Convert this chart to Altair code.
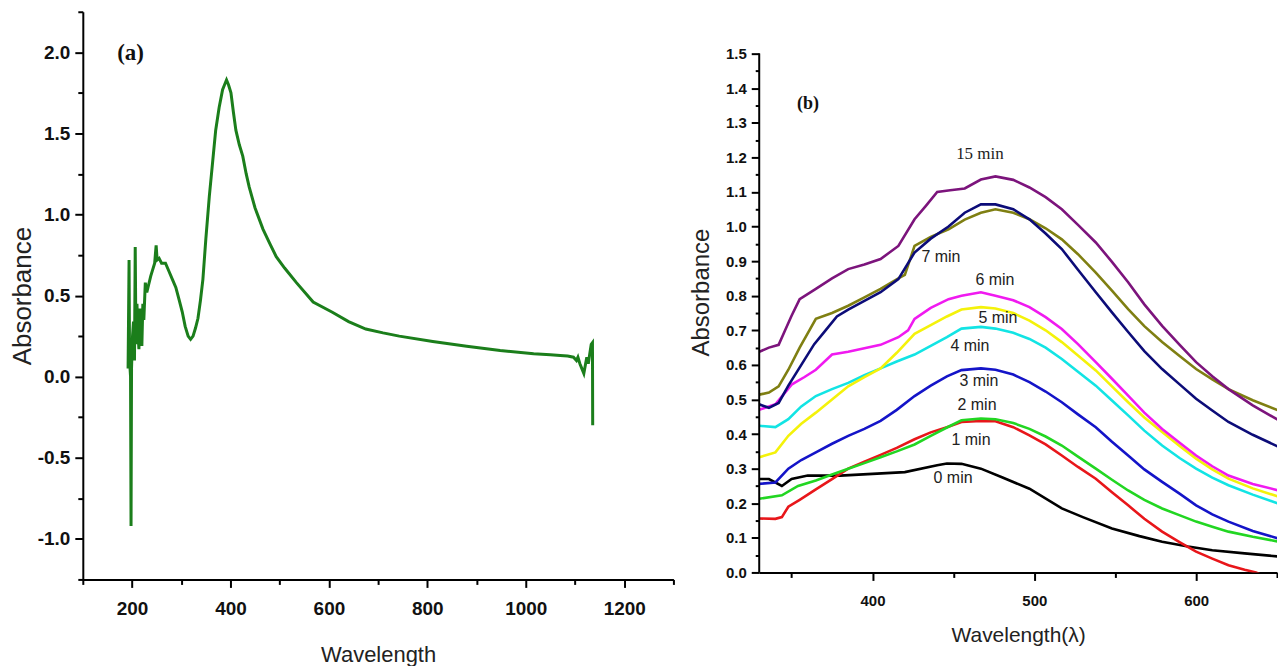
import altair as alt
import pandas as pd

# ---------------- Panel (a) data ----------------
a_wl = [192, 194, 195, 197, 198, 199, 201, 203, 205, 206.5, 208, 210, 212, 214, 216, 218, 220, 222,
        224, 227, 230, 234, 238, 242, 246, 249, 251, 255, 260, 268, 275, 282, 289, 296, 302, 308,
        314, 319, 324, 329, 334, 339, 344, 350, 357, 364, 370, 377, 384, 388, 392, 396, 401, 406,
        411, 418, 425, 432, 438, 450, 466, 480, 493, 510, 534, 568, 607, 640, 675, 710, 743, 811,
        880, 948, 1016, 1050, 1070, 1085, 1097, 1103, 1106, 1110, 1114, 1118, 1121, 1124, 1127,
        1130, 1133, 1135.5, 1136]
a_val = [0.05, 0.72, 0.10, 0.00, -0.92, 0.05, 0.25, 0.34, 0.10, 0.80, 0.20, 0.45, 0.28, 0.17, 0.42,
         0.30, 0.19, 0.45, 0.35, 0.58, 0.52, 0.57, 0.62, 0.66, 0.70, 0.81, 0.72, 0.73, 0.70, 0.70,
         0.65, 0.60, 0.55, 0.47, 0.40, 0.31, 0.25, 0.23, 0.25, 0.30, 0.36, 0.47, 0.60, 0.85, 1.11,
         1.33, 1.52, 1.66, 1.77, 1.80, 1.83, 1.80, 1.75, 1.63, 1.52, 1.43, 1.36, 1.25, 1.17, 1.04,
         0.91, 0.82, 0.74, 0.67, 0.58, 0.46, 0.397, 0.34, 0.294, 0.27, 0.25, 0.217, 0.188, 0.162,
         0.141, 0.135, 0.131, 0.127, 0.12, 0.10, 0.12, 0.08, 0.05, 0.02, 0.07, 0.12, 0.08, 0.14,
         0.20, 0.21, -0.30]

# ---------------- Panel (b) data ----------------
series_names = ["0 min", "1 min", "2 min", "3 min", "4 min", "5 min", "6 min", "7 min", "navy", "15 min"]
series_colors = ["#000000", "#e8161a", "#22d622", "#1414c8", "#12e4e4", "#f4f20a", "#f01af0",
                 "#7f7f12", "#0c0c78", "#7c147c"]

wl_0 = [330, 336, 344, 350, 360, 380, 400, 420, 440, 446, 455, 467, 480, 497, 517, 530, 548, 565, 579, 595, 610, 630, 651]
v_0 = [0.27, 0.27, 0.25, 0.27, 0.28, 0.28, 0.285, 0.29, 0.31, 0.315, 0.314, 0.30, 0.275, 0.242, 0.185, 0.16, 0.127, 0.105, 0.089, 0.075, 0.064, 0.055, 0.046]

wl_1 = [330, 340, 344, 348, 355, 365, 375, 385, 395, 405, 415, 426, 436, 446, 455, 467, 476, 487, 497, 507, 517, 527, 538, 548, 558, 568, 579, 590, 600, 610, 620, 630, 637, 651]
v_1 = [0.156, 0.155, 0.16, 0.19, 0.21, 0.24, 0.27, 0.30, 0.32, 0.34, 0.36, 0.385, 0.405, 0.42, 0.435, 0.438, 0.437, 0.42, 0.396, 0.37, 0.338, 0.305, 0.271, 0.232, 0.194, 0.155, 0.118, 0.087, 0.06, 0.04, 0.021, 0.008, 0.0, -0.03]

wl_2 = [330, 344, 354, 365, 375, 385, 395, 405, 415, 426, 436, 446, 455, 467, 476, 487, 497, 507, 517, 527, 538, 548, 558, 568, 579, 590, 600, 610, 620, 635, 651]
v_2 = [0.213, 0.223, 0.25, 0.266, 0.283, 0.30, 0.316, 0.333, 0.35, 0.37, 0.395, 0.419, 0.44, 0.445, 0.443, 0.432, 0.415, 0.393, 0.367, 0.335, 0.30, 0.268, 0.237, 0.21, 0.185, 0.165, 0.147, 0.132, 0.118, 0.103, 0.089]

wl_3 = [330, 340, 348, 356, 365, 375, 385, 395, 405, 415, 426, 436, 446, 455, 467, 476, 487, 497, 507, 517, 527, 538, 548, 558, 568, 579, 590, 600, 610, 620, 635, 651]
v_3 = [0.256, 0.26, 0.30, 0.325, 0.347, 0.372, 0.395, 0.415, 0.438, 0.47, 0.51, 0.54, 0.567, 0.585, 0.59, 0.586, 0.572, 0.55, 0.523, 0.492, 0.457, 0.42, 0.378, 0.338, 0.298, 0.262, 0.227, 0.194, 0.168, 0.147, 0.12, 0.098]

wl_4 = [330, 340, 348, 356, 365, 375, 385, 395, 405, 415, 426, 436, 446, 455, 467, 476, 487, 497, 507, 517, 527, 538, 548, 558, 568, 579, 590, 600, 610, 620, 635, 651]
v_4 = [0.424, 0.42, 0.443, 0.48, 0.51, 0.53, 0.548, 0.57, 0.59, 0.61, 0.63, 0.655, 0.68, 0.705, 0.71, 0.705, 0.693, 0.675, 0.65, 0.617, 0.58, 0.54, 0.497, 0.454, 0.41, 0.367, 0.33, 0.30, 0.274, 0.252, 0.225, 0.199]

wl_5 = [330, 340, 348, 356, 365, 375, 385, 395, 405, 415, 426, 436, 446, 455, 467, 476, 487, 497, 507, 517, 527, 538, 548, 558, 568, 579, 590, 600, 610, 620, 635, 651]
v_5 = [0.333, 0.347, 0.395, 0.43, 0.462, 0.50, 0.538, 0.565, 0.59, 0.635, 0.69, 0.715, 0.74, 0.76, 0.767, 0.763, 0.75, 0.728, 0.70, 0.666, 0.627, 0.584, 0.538, 0.492, 0.448, 0.406, 0.365, 0.329, 0.298, 0.271, 0.243, 0.219]

wl_6 = [330, 340, 350, 358, 365, 375, 385, 395, 405, 416, 422, 426, 436, 447, 455, 467, 476, 487, 497, 507, 517, 527, 538, 548, 558, 568, 579, 590, 600, 610, 620, 635, 651]
v_6 = [0.47, 0.486, 0.543, 0.565, 0.586, 0.63, 0.638, 0.648, 0.658, 0.68, 0.70, 0.733, 0.765, 0.79, 0.80, 0.81, 0.80, 0.787, 0.767, 0.738, 0.704, 0.66, 0.608, 0.56, 0.511, 0.462, 0.415, 0.374, 0.338, 0.307, 0.28, 0.256, 0.237]

wl_7 = [330, 336, 342, 348, 355, 361, 365, 375, 385, 395, 405, 416, 420, 426, 436, 447, 457, 467, 476, 487, 497, 507, 517, 527, 538, 548, 558, 568, 579, 590, 600, 610, 620, 635, 651]
v_7 = [0.514, 0.52, 0.538, 0.586, 0.65, 0.70, 0.733, 0.75, 0.771, 0.795, 0.82, 0.85, 0.86, 0.944, 0.97, 0.992, 1.02, 1.04, 1.05, 1.04, 1.021, 0.995, 0.963, 0.92, 0.867, 0.815, 0.761, 0.712, 0.666, 0.625, 0.588, 0.558, 0.53, 0.498, 0.468]

wl_n = [330, 336, 342, 348, 356, 364, 371, 378, 385, 395, 405, 416, 426, 436, 447, 457, 467, 476, 487, 497, 507, 517, 527, 538, 548, 558, 568, 579, 590, 600, 610, 620, 635, 651]
v_n = [0.486, 0.476, 0.49, 0.54, 0.60, 0.66, 0.70, 0.74, 0.76, 0.785, 0.81, 0.848, 0.925, 0.965, 1.00, 1.04, 1.064, 1.064, 1.05, 1.021, 0.98, 0.935, 0.875, 0.81, 0.752, 0.695, 0.64, 0.588, 0.543, 0.502, 0.468, 0.435, 0.398, 0.363]

wl_15 = [330, 336, 342, 346, 350, 355, 365, 375, 385, 395, 405, 416, 426, 433, 440, 448, 457, 467, 476, 487, 497, 507, 517, 527, 538, 548, 558, 568, 579, 590, 600, 610, 620, 635, 651]
v_15 = [0.638, 0.65, 0.658, 0.70, 0.742, 0.79, 0.82, 0.85, 0.877, 0.89, 0.906, 0.944, 1.021, 1.06, 1.10, 1.105, 1.11, 1.136, 1.145, 1.135, 1.113, 1.085, 1.05, 1.005, 0.954, 0.898, 0.839, 0.775, 0.713, 0.657, 0.608, 0.567, 0.53, 0.483, 0.44]

series_wl = [wl_0, wl_1, wl_2, wl_3, wl_4, wl_5, wl_6, wl_7, wl_n, wl_15]
series_v = [v_0, v_1, v_2, v_3, v_4, v_5, v_6, v_7, v_n, v_15]

lab_text = ["7 min", "6 min", "5 min", "4 min", "3 min", "2 min", "1 min", "0 min"]
lab_wl = [442.3, 475.7, 477.5, 460.2, 465.8, 464.6, 460.9, 449.8]
lab_val = [0.911, 0.845, 0.735, 0.655, 0.554, 0.485, 0.384, 0.274]

# ---------------- build tables ----------------
df_a = pd.DataFrame({"wl": a_wl, "val": a_val, "i": range(len(a_wl))})
rows = []
for name, wls, vs in zip(series_names, series_wl, series_v):
    for k, (w, v) in enumerate(zip(wls, vs)):
        rows.append({"series": name, "wl": w, "val": v, "i": k})
df_b = pd.DataFrame(rows)
df_lab = pd.DataFrame({"wl": lab_wl, "val": lab_val, "label": lab_text})

NARROW = "Liberation Sans Narrow, Arial Narrow, Liberation Sans, sans-serif"
SANS = "Liberation Sans, Arial, sans-serif"
SERIF = "Liberation Serif, Times New Roman, serif"
MINUS = "\u2212"

def axis_common(**kw):
    base = dict(grid=False, domainColor="black", domainWidth=2, tickColor="black", tickWidth=2,
                labelColor="#111", titleColor="#222", titleFontWeight="normal", labelFontWeight="bold",
                labelOverlap=False)
    base.update(kw)
    return alt.Axis(**base)

# ---------------- Panel (a) ----------------
a_xticks = list(range(100, 1301, 100))
a_yticks = [round(-1.25 + 0.25 * k, 2) for k in range(15)]
a_ymajor = "abs(datum.value*2 - round(datum.value*2)) < 1e-6"

xa = alt.X("wl:Q", scale=alt.Scale(domain=[100, 1300], nice=False, zero=False),
           axis=axis_common(values=a_xticks, title="Wavelength",
                            labelExpr="datum.value % 200 === 0 ? format(datum.value, 'd') : ''",
                            tickSize={"condition": {"test": "datum.value % 200 === 0", "value": 8}, "value": 5},
                            labelFont=NARROW, labelFontSize=19, labelPadding=12,
                            titleFont=SANS, titleFontSize=22, titlePadding=26))
ya = alt.Y("val:Q", scale=alt.Scale(domain=[-1.25, 2.25], nice=False, zero=False),
           axis=axis_common(values=a_yticks, title="Absorbance",
                            labelExpr=a_ymajor + " ? replace(format(datum.value, '.1f'), '" + MINUS + "', '-') : ''",
                            tickSize={"condition": {"test": a_ymajor, "value": 8}, "value": 5},
                            labelFont=NARROW, labelFontSize=19, labelPadding=5,
                            titleFont=SANS, titleFontSize=26, titlePadding=2))

line_a = alt.Chart(df_a).mark_line(color="#1b7e1b", strokeWidth=3).encode(x=xa, y=ya, order="i:Q")
txt_a = alt.Chart(pd.DataFrame({"wl": [197], "val": [1.994], "label": ["(a)"]})).mark_text(
    font=SERIF, fontSize=23, fontWeight="bold", color="#111").encode(x=xa, y=ya, text="label:N")
panel_a = alt.layer(line_a, txt_a).properties(width=592, height=569)

# ---------------- Panel (b) ----------------
b_xticks = list(range(350, 651, 50))
b_yticks = [round(0.05 * k, 2) for k in range(31)]
b_ymajor = "abs(datum.value*10 - round(datum.value*10)) < 1e-6"

xb = alt.X("wl:Q", scale=alt.Scale(domain=[330, 650], nice=False, zero=False),
           axis=axis_common(values=b_xticks, title="Wavelength(\u03bb)",
                            labelExpr="datum.value % 100 === 0 ? format(datum.value, 'd') : ''",
                            tickSize={"condition": {"test": "datum.value % 100 === 0", "value": 8}, "value": 5},
                            labelFont=SANS, labelFontSize=15, labelPadding=13,
                            titleFont=SANS, titleFontSize=21, titlePadding=16))
yb = alt.Y("val:Q", scale=alt.Scale(domain=[0, 1.621], nice=False, zero=False),
           axis=axis_common(values=b_yticks, title="Absorbance", domain=False,
                            labelExpr=b_ymajor + " ? format(datum.value, '.1f') : ''",
                            tickSize={"condition": {"test": b_ymajor, "value": 8}, "value": 4},
                            labelFont=SANS, labelFontSize=15, labelPadding=5,
                            titleFont=SANS, titleFontSize=24, titlePadding=12))

lines_b = alt.Chart(df_b).mark_line(strokeWidth=2.6, clip=True).encode(
    x=xb, y=yb, order="i:Q",
    color=alt.Color("series:N", scale=alt.Scale(domain=series_names, range=series_colors), legend=None))
yline = alt.Chart(pd.DataFrame({"val": [0.0], "val2": [1.5]})).mark_rule(color="black", strokeWidth=2).encode(
    x=alt.value(0), y=yb, y2="val2:Q")
labs_b = alt.Chart(df_lab).mark_text(font=NARROW, fontSize=16, color="#222").encode(
    x=xb, y=yb, text="label:N")
lab15 = alt.Chart(pd.DataFrame({"wl": [466.4], "val": [1.209], "label": ["15 min"]})).mark_text(
    font=SERIF, fontSize=17, color="#222").encode(x=xb, y=yb, text="label:N")
txt_b = alt.Chart(pd.DataFrame({"wl": [360.2], "val": [1.353], "label": ["(b)"]})).mark_text(
    font=SERIF, fontSize=18, fontWeight="bold", color="#111").encode(x=xb, y=yb, text="label:N")
panel_b = alt.layer(lines_b, yline, labs_b, lab15, txt_b).properties(width=519, height=562)

chart = alt.hconcat(panel_a, panel_b, spacing=15).properties(
    padding={"left": 9, "top": 2, "right": 0, "bottom": 0},
    background="white",
).configure_view(strokeWidth=0)

chart.save("out.html", embed_options={"renderer": "svg", "actions": False})
